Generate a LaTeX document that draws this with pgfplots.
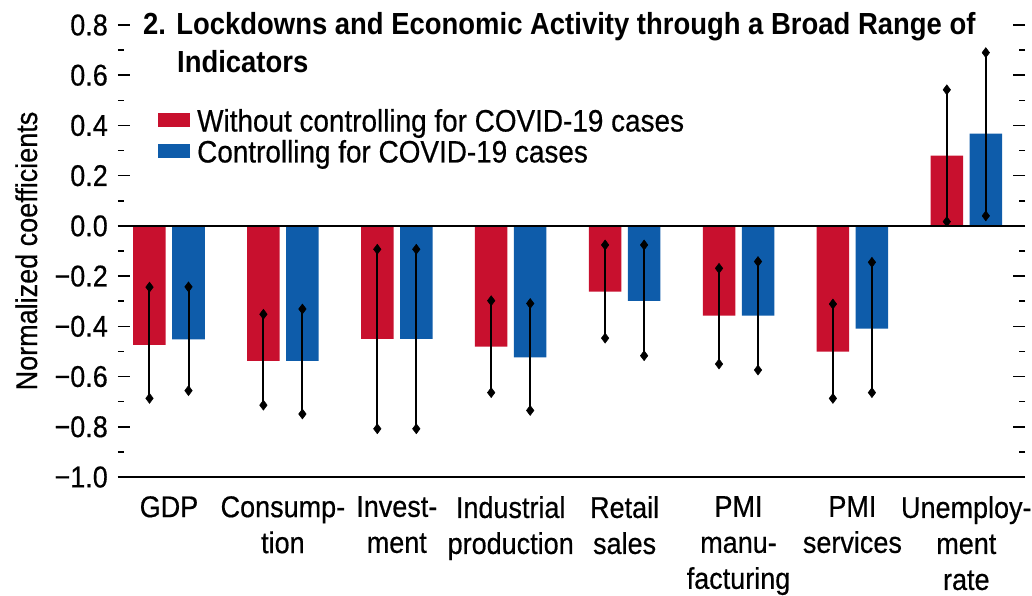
\documentclass[border=0pt]{standalone}
\usepackage{fontspec}
\setmainfont{Liberation Sans}[FakeStretch=0.9, UprightFeatures={FakeBold=0.5}]
\usepackage{pgfplots}
\usepackage{pgfplotstable}
\pgfplotsset{compat=1.18}
\definecolor{imfred}{RGB}{200,16,46}
\definecolor{imfblue}{RGB}{14,92,170}

% x = category centre, in points from the left edge of the plot area
\pgfplotstableread{
x v lo hi
51.0 -0.474 -0.687 -0.244
164.9 -0.538 -0.714 -0.352
278.8 -0.450 -0.808 -0.093
392.7 -0.481 -0.664 -0.298
506.6 -0.262 -0.447 -0.076
620.5 -0.357 -0.550 -0.169
734.4 -0.501 -0.687 -0.311
848.3 0.280 0.017 0.542
}\redtab

\pgfplotstableread{
x v lo hi
51.0 -0.452 -0.656 -0.243
164.9 -0.538 -0.749 -0.331
278.8 -0.450 -0.808 -0.093
392.7 -0.524 -0.735 -0.309
506.6 -0.299 -0.517 -0.076
620.5 -0.357 -0.574 -0.142
734.4 -0.409 -0.664 -0.145
848.3 0.367 0.040 0.690
}\bluetab

\begin{document}
\begin{tikzpicture}
\useasboundingbox (-118bp,-119bp) rectangle (914bp,477bp);
\begin{axis}[
  at={(0,0)}, anchor=south west,
  scale only axis,
  width=907bp, height=452bp,
  xmin=0, xmax=907,
  ymin=-1.0, ymax=0.8,
  clip=false,
  axis line style={draw=none},
  ybar=6.5bp, bar width=32.5bp,
  xtick={51.0,164.9,278.8,392.7,506.6,620.5,734.4,848.3},
  xticklabels={GDP,{Consump-\\tion},{Invest-\\ment},{Industrial\\production},{Retail\\sales},{PMI\\manu-\\facturing},{PMI\\services},{Unemploy-\\ment\\rate}},
  xtick style={draw=none},
  xtick pos=left,
  extra x ticks={108,222,335,449,559,670,782},
  extra x tick labels={},
  extra x tick style={major tick length=13bp, tick style={draw=black, line width=1.5bp}},
  xticklabel style={align=center, inner sep=0pt, yshift=-19bp, font=\fontsize{30bp}{36bp}\selectfont},
  ytick={-1.0,-0.8,-0.6,-0.4,-0.2,0,0.2,0.4,0.6,0.8},
  yticklabels={−1.0,−0.8,−0.6,−0.4,−0.2,0.0,0.2,0.4,0.6,0.8},
  yticklabel style={font=\fontsize{30bp}{36bp}\selectfont, inner sep=0pt, xshift=-10bp},
  minor y tick num=1,
  tick align=inside,
  major tick length=12bp,
  minor tick length=6bp,
  ytick style={black, line width=1.5bp},
  minor y tick style={black, line width=1.5bp},
  ylabel={Normalized coefficients},
  ylabel style={at={(axis description cs:-0.0893,0.5)}, anchor=base, font=\fontsize{30bp}{36bp}\selectfont},
  error bars/y dir=both,
  error bars/y explicit,
  error bars/error mark=diamond*,
  error bars/error bar style={black, line width=2bp},
  error bars/error mark options={black, mark size=5bp, solid, line width=0.5bp, rotate=90},
  legend image code/.code={\draw[#1, draw=none] (0bp,-6bp) rectangle (32bp,8bp);},
  legend style={at={(axis description cs:0.0441,0.8145)}, anchor=north west, draw=none, fill=none,
    font=\fontsize{31bp}{36bp}\selectfont, inner sep=0pt, nodes={inner sep=0pt}, row sep=7bp, column sep=7bp},
  legend cell align=left,
]
\addplot[fill=imfred, draw=none] table[x=x, y=v, y error plus expr=\thisrow{hi}-\thisrow{v}, y error minus expr=\thisrow{v}-\thisrow{lo}] {\redtab};
\addplot[fill=imfblue, draw=none] table[x=x, y=v, y error plus expr=\thisrow{hi}-\thisrow{v}, y error minus expr=\thisrow{v}-\thisrow{lo}] {\bluetab};
\legend{Without controlling for COVID-19 cases, Controlling for COVID-19 cases}
\draw[black, line width=1.3bp] (axis cs:0,0) -- (axis cs:907,0);
\draw[black, line width=1.5bp] (axis cs:0,-1) -- (axis cs:897,-1);
\node[anchor=base west, inner sep=0pt, font=\bfseries\fontsize{30.5bp}{36bp}\selectfont] at (axis description cs:0.0276,0.9779) {2. Lockdowns and Economic Activity through a Broad Range of};
\node[anchor=base west, inner sep=0pt, font=\bfseries\fontsize{30.5bp}{36bp}\selectfont] at (axis description cs:0.065,0.8938) {Indicators};
\end{axis}
\end{tikzpicture}
\end{document}
